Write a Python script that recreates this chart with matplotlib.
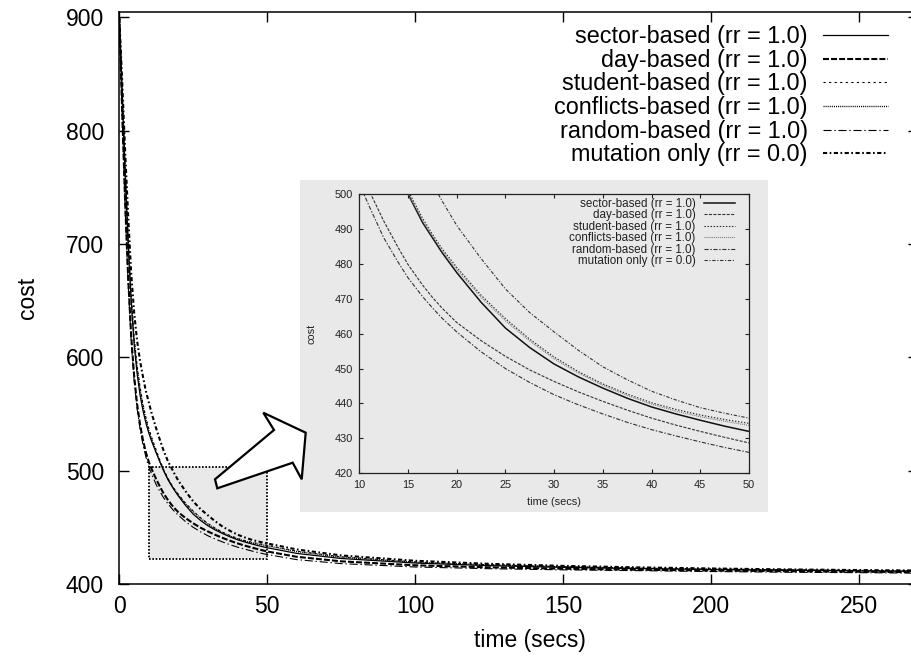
import matplotlib
matplotlib.use('Agg')
import matplotlib.pyplot as plt
from matplotlib.patches import Rectangle, Polygon

plt.rcParams['font.family'] = ['Liberation Sans', 'DejaVu Sans']
plt.rcParams['lines.scale_dashes'] = False

# ---------------- data ----------------
time_s = [0, 1, 2, 3, 4, 5, 6, 7, 8, 9,
          10, 11, 12.5, 14, 15, 16.5, 17.5, 18.5, 20, 22.5, 25, 27.5, 30, 32.5, 35,
          37.5, 40, 42.5, 45, 47.5, 50,
          60, 75, 100, 125, 150, 175, 200, 225, 250, 270]
sector = [900, 830, 760, 700, 650, 612, 586, 567, 553, 542,
          533, 525.5, 515.5, 506, 500, 491.8, 487.5, 483.2, 477.5, 469, 461.6, 456,
          451.3, 447.6, 444.4, 441.5, 439, 437, 435.2, 433.5, 432,
          427, 422.5, 418.5, 416.2, 414.7, 413.6, 412.8, 412.1, 411.6, 411.2]
day = [900, 815, 735, 670, 620, 584, 559, 541, 527, 516,
       507.5, 501, 492.3, 484.6, 479.8, 473.9, 470.4, 467.3, 463.2, 458, 453.5, 449.6,
       446.3, 443.3, 440.6, 438.1, 435.8, 433.8, 432, 430.3, 428.7,
       424, 420, 416.5, 414.7, 413.5, 412.6, 411.9, 411.3, 410.8, 410.5]
student = [900, 835, 765, 705, 655, 618, 593, 574, 559, 547,
           537, 529, 518, 507.5, 501, 493, 488.5, 484.3, 479, 471, 464.3, 458.4,
           453.3, 449.1, 445.6, 442.7, 440.2, 438.3, 436.7, 435.4, 434.3,
           429, 424, 419.5, 417, 415.3, 414.1, 413.2, 412.5, 412, 411.6]
conflicts = [900, 833, 763, 703, 653, 616, 591, 572, 557, 545,
             535, 527.3, 516.5, 506.3, 500, 492.4, 487.9, 483.8, 478.4, 470.4, 463.7,
             457.9, 452.8, 448.7, 445.2, 442.3, 439.8, 437.8, 436.2, 434.9, 433.7,
             428.6, 423.6, 419.2, 416.8, 415.1, 414, 413.1, 412.4, 411.9, 411.5]
random_b = [900, 810, 730, 665, 615, 580, 555, 537, 523, 512,
            503, 496.6, 487.5, 480.4, 476, 470.6, 467.4, 464.4, 460.5, 454.8, 450,
            446, 442.5, 439.6, 437, 434.6, 432.5, 430.7, 429, 427.4, 426,
            421.5, 418, 415, 413.5, 412.5, 411.8, 411, 410.4, 410, 409.6]
mutation = [900, 842, 780, 725, 675, 640, 615, 597, 583, 570,
            560, 550, 537, 525, 517.5, 508, 503, 498, 491, 481.5, 472.8, 466,
            460.5, 455.2, 450.5, 446.8, 443.5, 441, 438.8, 437.2, 435.8,
            430.5, 425.2, 420.5, 417.8, 416, 414.7, 413.7, 412.9, 412.3, 411.9]

labels = ['sector-based (rr = 1.0)', 'day-based (rr = 1.0)', 'student-based (rr = 1.0)',
          'conflicts-based (rr = 1.0)', 'random-based (rr = 1.0)', 'mutation only (rr = 0.0)']
series = [sector, day, student, conflicts, random_b, mutation]

main_x_ticks = [0, 50, 100, 150, 200, 250]
main_y_ticks = [400, 500, 600, 700, 800, 900]
inset_x_ticks = [10, 15, 20, 25, 30, 35, 40, 45, 50]
inset_y_ticks = [420, 430, 440, 450, 460, 470, 480, 490, 500]
zoom_box = (10, 422, 50, 503)  # x0, y0, x1, y1

# ---------------- styles ----------------
main_styles = [
    dict(lw=0.9, ls='-'),
    dict(lw=1.5, ls=(0, (4.3, 1.5))),
    dict(lw=0.8, ls=(0, (1.6, 2.4))),
    dict(lw=1.0, ls=(0, (0.75, 0.75))),
    dict(lw=0.8, ls=(0, (5.8, 2.0, 1.0, 2.0))),
    dict(lw=1.5, ls=(0, (3.0, 1.8, 1.2, 1.8))),
]
inset_styles = [
    dict(lw=1.1, ls='-', color='#111111'),
    dict(lw=0.8, ls=(0, (2.2, 1.0)), color='#333333'),
    dict(lw=0.8, ls=(0, (1.0, 1.2)), color='#222222'),
    dict(lw=0.8, ls=(0, (0.7, 0.7)), color='#777777'),
    dict(lw=0.8, ls=(0, (3.0, 1.2, 1.0, 1.2)), color='#333333'),
    dict(lw=0.8, ls=(0, (2.4, 1.2, 0.8, 1.2)), color='#333333'),
]

W, H = 912, 659
fig = plt.figure(figsize=(W / 100, H / 100), dpi=100)

def fx(px):
    return px / W

def fy(py):
    return 1 - py / H

# ---------------- main axes ----------------
ax = fig.add_axes([fx(119.3), fy(584), fx(918) - fx(119.3), (584 - 12) / H])
ax.set_xlim(0, 270)
ax.set_ylim(400, 904.7)
for s, lab, st in zip(series, labels, main_styles):
    ax.plot(time_s, s, color='black', label=lab, **st)

ax.add_patch(Rectangle((zoom_box[0], zoom_box[1]), zoom_box[2] - zoom_box[0],
                       zoom_box[3] - zoom_box[1], facecolor='#e9e9e9',
                       edgecolor='black', lw=1.3, ls=(0, (1.2, 1.2)), zorder=0.5))

ax.set_xticks(main_x_ticks)
ax.set_yticks(main_y_ticks)
ax.tick_params(direction='in', length=7.2, width=1.0, top=True, right=True,
               labelsize=16.5)
ax.tick_params(axis='y', pad=11)
ax.tick_params(axis='x', pad=8)
for sp in ax.spines.values():
    sp.set_linewidth(1.1)
ax.set_xlabel('time (secs)', fontsize=16.5)
ax.set_ylabel('cost', fontsize=16.5)
ax.xaxis.set_label_coords(fx(530), fy(641), transform=fig.transFigure)
ax.xaxis.label.set_va('center')
ax.yaxis.set_label_coords(fx(28), fy(298), transform=fig.transFigure)
ax.yaxis.label.set_va('center')

leg = ax.legend(loc='upper right', bbox_to_anchor=(fx(888), fy(25)),
                bbox_transform=fig.transFigure, frameon=False, markerfirst=False,
                fontsize=16.8, handlelength=2.8, handletextpad=0.64,
                labelspacing=0.03, borderpad=0, borderaxespad=0)

# ---------------- inset ----------------
fig.patches.append(Rectangle((fx(300), fy(512)), fx(768) - fx(300), (512 - 180) / H,
                             transform=fig.transFigure, facecolor='#e9e9e9',
                             edgecolor='none', zorder=2))

arrow_px = [(215, 479.3), (274, 430), (263.3, 412.7), (305.7, 432.7),
            (301.7, 479.3), (292.7, 462.7), (217.3, 488.3)]
fig.patches.append(Polygon([(fx(x), fy(y)) for x, y in arrow_px], closed=True,
                           transform=fig.transFigure, facecolor='white',
                           edgecolor='black', lw=1.6, joinstyle='miter', zorder=3))

axi = fig.add_axes([fx(359.3), fy(473.3), fx(749) - fx(359.3), (473.3 - 194) / H],
                   zorder=4)
axi.set_facecolor('#e9e9e9')
axi.set_xlim(10, 50)
axi.set_ylim(420, 500)
for s, lab, st in zip(series, labels, inset_styles):
    axi.plot(time_s, s, label=lab, **st)
axi.set_xticks(inset_x_ticks)
axi.set_yticks(inset_y_ticks)
axi.tick_params(direction='in', length=3.2, width=0.8, top=True, right=True,
                labelsize=7.9, colors='#222222')
axi.tick_params(axis='y', pad=4.5)
axi.tick_params(axis='x', pad=4.5)
for sp in axi.spines.values():
    sp.set_linewidth(0.9)
    sp.set_color('#222222')
axi.set_xlabel('time (secs)', fontsize=7.9, color='#222222')
axi.set_ylabel('cost', fontsize=7.9, color='#222222')
axi.xaxis.set_label_coords(fx(554), fy(502), transform=fig.transFigure)
axi.xaxis.label.set_va('center')
axi.yaxis.set_label_coords(fx(312), fy(333.5), transform=fig.transFigure)
axi.yaxis.label.set_va('center')

legi = axi.legend(loc='upper right', bbox_to_anchor=(fx(735), fy(198)),
                  bbox_transform=fig.transFigure, frameon=False, markerfirst=False,
                  fontsize=8.4, handlelength=2.7, handletextpad=0.68,
                  labelspacing=-0.05, borderpad=0, borderaxespad=0)
for t in legi.get_texts():
    t.set_color('#222222')

fig.savefig('out.png', dpi=100)
